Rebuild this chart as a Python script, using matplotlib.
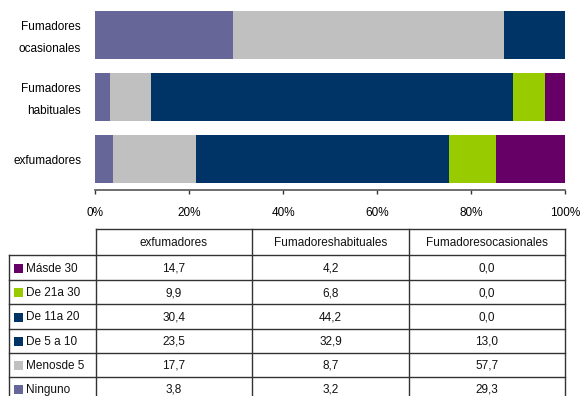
import matplotlib
matplotlib.use("Agg")
import matplotlib.pyplot as plt
import matplotlib.transforms as mtransforms
from matplotlib.patches import Rectangle

plt.rcParams['font.family'] = ['Liberation Sans', 'DejaVu Sans']

# Categories (bottom to top on the chart)
categories = ["exfumadores", "Fumadores\nhabituales", "Fumadores\nocasionales"]
table_headers = ["exfumadores", "Fumadoreshabituales", "Fumadoresocasionales"]

# Cigarettes per day, percentage of each group
series_names = ["Ninguno", "Menosde 5", "De 5 a 10", "De 11a 20", "De 21a 30", "Másde 30"]
ninguno = [3.8, 3.2, 29.3]
menos_de_5 = [17.7, 8.7, 57.7]
de_5_a_10 = [23.5, 32.9, 13.0]
de_11_a_20 = [30.4, 44.2, 0.0]
de_21_a_30 = [9.9, 6.8, 0.0]
mas_de_30 = [14.7, 4.2, 0.0]
series_values = [ninguno, menos_de_5, de_5_a_10, de_11_a_20, de_21_a_30, mas_de_30]
series_colors = ["#666699", "#C0C0C0", "#003366", "#003366", "#99CC00", "#660066"]

x_ticks = [0, 20, 40, 60, 80, 100]
x_tick_labels = ["0%", "20%", "40%", "60%", "80%", "100%"]

W, H = 580, 396
fig = plt.figure(figsize=(W / 100, H / 100), dpi=100)

# ---- stacked 100% bar chart ----
ax_left, ax_right, ax_top, ax_bottom = 95, 565, 4, 190
ax = fig.add_axes([ax_left / W, 1 - ax_bottom / H,
                   (ax_right - ax_left) / W, (ax_bottom - ax_top) / H])
ypos = list(range(len(categories)))
left = [0.0] * len(categories)
for vals, col in zip(series_values, series_colors):
    ax.barh(ypos, vals, left=left, height=0.79, color=col, edgecolor='none')
    left = [l + v for l, v in zip(left, vals)]

ax.set_xlim(0, 100)
ax.set_ylim(-0.5, 2.5)
ax.set_xticks(x_ticks)
ax.set_xticklabels(x_tick_labels, fontsize=8.5)
ax.set_yticks(ypos)
ax.set_yticklabels(categories, fontsize=8.5, linespacing=2.0)
ax.tick_params(axis='y', length=0, pad=10)
ax.tick_params(axis='x', length=3, width=1, color='#333333', pad=9)
shift_up = mtransforms.ScaledTranslation(0, 3 / 100, fig.dpi_scale_trans)
for lbl, name in zip(ax.get_yticklabels(), categories):
    if "\n" in name:
        lbl.set_transform(lbl.get_transform() + shift_up)
for s in ['top', 'right', 'left']:
    ax.spines[s].set_visible(False)
ax.spines['bottom'].set_color('#555555')
ax.spines['bottom'].set_linewidth(1.2)

# ---- data table below the chart ----
tb = fig.add_axes([0, 0, 1, 1])
tb.set_xlim(0, W)
tb.set_ylim(H, 0)
tb.axis('off')

col_edges = [9, 96, 252, 409, 565]
row_edges = [229, 255, 280, 304, 329, 353, 377, 401]
lc = '#333333'
lw = 1.0

# header row (no label cell)
tb.plot([col_edges[1], col_edges[-1]], [row_edges[0]] * 2, color=lc, lw=lw)
for y in row_edges[1:]:
    tb.plot([col_edges[0], col_edges[-1]], [y, y], color=lc, lw=lw)
tb.plot([col_edges[0]] * 2, [row_edges[1], row_edges[-1]], color=lc, lw=lw)
for x in col_edges[1:]:
    tb.plot([x, x], [row_edges[0], row_edges[-1]], color=lc, lw=lw)

for j, head in enumerate(table_headers):
    cx = (col_edges[j + 1] + col_edges[j + 2]) / 2
    tb.text(cx, (row_edges[0] + row_edges[1]) / 2 + 1, head, ha='center', va='center',
            fontsize=8.5, color='#111111')

row_order = list(range(len(series_names)))[::-1]
for r, si in enumerate(row_order):
    y0, y1 = row_edges[r + 1], row_edges[r + 2]
    cy = (y0 + y1) / 2
    tb.add_patch(Rectangle((14, cy - 4), 9, 9, facecolor=series_colors[si],
                           edgecolor='none'))
    tb.text(26, cy + 1, series_names[si], ha='left', va='center', fontsize=8.5,
            color='#111111')
    for j in range(len(table_headers)):
        cx = (col_edges[j + 1] + col_edges[j + 2]) / 2
        txt = f"{series_values[si][j]:.1f}".replace('.', ',')
        tb.text(cx, cy + 1, txt, ha='center', va='center', fontsize=8.5, color='#111111')

fig.savefig("out.png", dpi=100)
